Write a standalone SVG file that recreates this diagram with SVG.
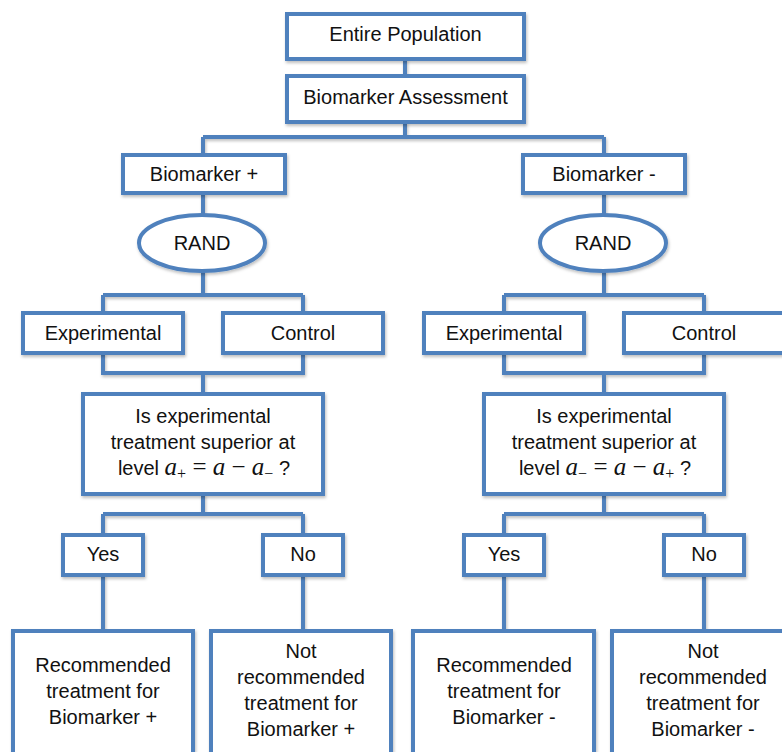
<svg xmlns="http://www.w3.org/2000/svg" width="782" height="752" viewBox="0 0 782 752">
<defs>
<filter id="sh" x="-10%" y="-10%" width="120%" height="130%">
<feDropShadow dx="1" dy="2" stdDeviation="1.5" flood-color="#000" flood-opacity="0.25"/>
</filter>
</defs>
<style>
.box{fill:#fff;stroke:#4F81BD;stroke-width:4;filter:url(#sh)}
.con{fill:none;stroke:#4F81BD;stroke-width:4;filter:url(#sh)}
.t{font-family:"Liberation Sans",Arial,sans-serif;font-size:20px;fill:#111;text-anchor:middle}
.m{font-family:"Liberation Serif","DejaVu Serif",serif;font-style:italic;font-size:25px}
.s{font-family:"Liberation Serif","DejaVu Serif",serif;font-style:normal;font-size:16px}
.o{font-family:"Liberation Serif","DejaVu Serif",serif;font-size:25px}
</style>
<rect width="782" height="752" fill="#fff"/>
<g id="connectors">
<path class="con" d="M405 59V76M405 122V137M203 137H604M203 137V155M604 137V155"/>
<path class="con" d="M203 193V215M203 271V295M103 295H303M103 295V313M303 295V313M103 353V373H303V353M203 373V394M203 494V514M103 514H303M103 514V535M303 514V535M103 575V631M303 575V631"/>
<path class="con" d="M604 193V215M604 271V295M504 295H704M504 295V313M704 295V313M504 353V373H704V353M604 373V394M604 494V514M504 514H704M504 514V535M704 514V535M504 575V631M704 575V631"/>
</g>
<g id="entire">
<rect class="box" x="287" y="14" width="237" height="45"/>
<text class="t" x="405.5" y="41">Entire Population</text>
</g>
<g id="assessment">
<rect class="box" x="287" y="76" width="237" height="46"/>
<text class="t" x="405.5" y="104">Biomarker Assessment</text>
</g>
<g id="bm-pos">
<rect class="box" x="123" y="155" width="162" height="38"/>
<text class="t" x="204" y="181">Biomarker +</text>
</g>
<g id="bm-neg">
<rect class="box" x="523" y="155" width="162" height="38"/>
<text class="t" x="604" y="181">Biomarker -</text>
</g>
<g id="rand-pos">
<ellipse class="box" cx="202" cy="243" rx="63" ry="28"/>
<text class="t" x="202" y="250">RAND</text>
</g>
<g id="rand-neg">
<ellipse class="box" cx="603" cy="243" rx="63" ry="28"/>
<text class="t" x="603" y="250">RAND</text>
</g>
<g id="exp-pos">
<rect class="box" x="23" y="313" width="160" height="40"/>
<text class="t" x="103" y="340">Experimental</text>
</g>
<g id="ctl-pos">
<rect class="box" x="223" y="313" width="160" height="40"/>
<text class="t" x="303" y="340">Control</text>
</g>
<g id="exp-neg">
<rect class="box" x="424" y="313" width="160" height="40"/>
<text class="t" x="504" y="340">Experimental</text>
</g>
<g id="ctl-neg">
<rect class="box" x="624" y="313" width="160" height="40"/>
<text class="t" x="704" y="340">Control</text>
</g>
<g id="q-pos">
<rect class="box" x="83" y="394" width="240" height="100"/>
<text class="t" x="203" y="423">Is experimental</text>
<text class="t" x="203" y="449">treatment superior at</text>
<text class="t" x="204" y="475">level <tspan class="m">a</tspan><tspan class="s" dy="4">+</tspan><tspan class="o" dy="-4"> = </tspan><tspan class="m">a</tspan><tspan class="o"> − </tspan><tspan class="m">a</tspan><tspan class="s" dy="4">−</tspan><tspan dy="-4"> ?</tspan></text>
</g>
<g id="q-neg">
<rect class="box" x="484" y="394" width="240" height="100"/>
<text class="t" x="604" y="423">Is experimental</text>
<text class="t" x="604" y="449">treatment superior at</text>
<text class="t" x="605" y="475">level <tspan class="m">a</tspan><tspan class="s" dy="4">−</tspan><tspan class="o" dy="-4"> = </tspan><tspan class="m">a</tspan><tspan class="o"> − </tspan><tspan class="m">a</tspan><tspan class="s" dy="4">+</tspan><tspan dy="-4"> ?</tspan></text>
</g>
<g id="yes-pos">
<rect class="box" x="63" y="535" width="80" height="40"/>
<text class="t" x="103" y="561">Yes</text>
</g>
<g id="no-pos">
<rect class="box" x="263" y="535" width="80" height="40"/>
<text class="t" x="303" y="561">No</text>
</g>
<g id="yes-neg">
<rect class="box" x="464" y="535" width="80" height="40"/>
<text class="t" x="504" y="561">Yes</text>
</g>
<g id="no-neg">
<rect class="box" x="664" y="535" width="80" height="40"/>
<text class="t" x="704" y="561">No</text>
</g>
<g id="rec-pos">
<rect class="box" x="13" y="631" width="180" height="140"/>
<text class="t" x="103" y="672">Recommended</text>
<text class="t" x="103" y="698">treatment for</text>
<text class="t" x="103" y="724">Biomarker +</text>
</g>
<g id="notrec-pos">
<rect class="box" x="211" y="631" width="180" height="140"/>
<text class="t" x="301" y="658">Not</text>
<text class="t" x="301" y="684">recommended</text>
<text class="t" x="301" y="710">treatment for</text>
<text class="t" x="301" y="736">Biomarker +</text>
</g>
<g id="rec-neg">
<rect class="box" x="413" y="631" width="181" height="140"/>
<text class="t" x="504" y="672">Recommended</text>
<text class="t" x="504" y="698">treatment for</text>
<text class="t" x="504" y="724">Biomarker -</text>
</g>
<g id="notrec-neg">
<rect class="box" x="612" y="631" width="180" height="140"/>
<text class="t" x="703" y="658">Not</text>
<text class="t" x="703" y="684">recommended</text>
<text class="t" x="703" y="710">treatment for</text>
<text class="t" x="703" y="736">Biomarker -</text>
</g>
</svg>
